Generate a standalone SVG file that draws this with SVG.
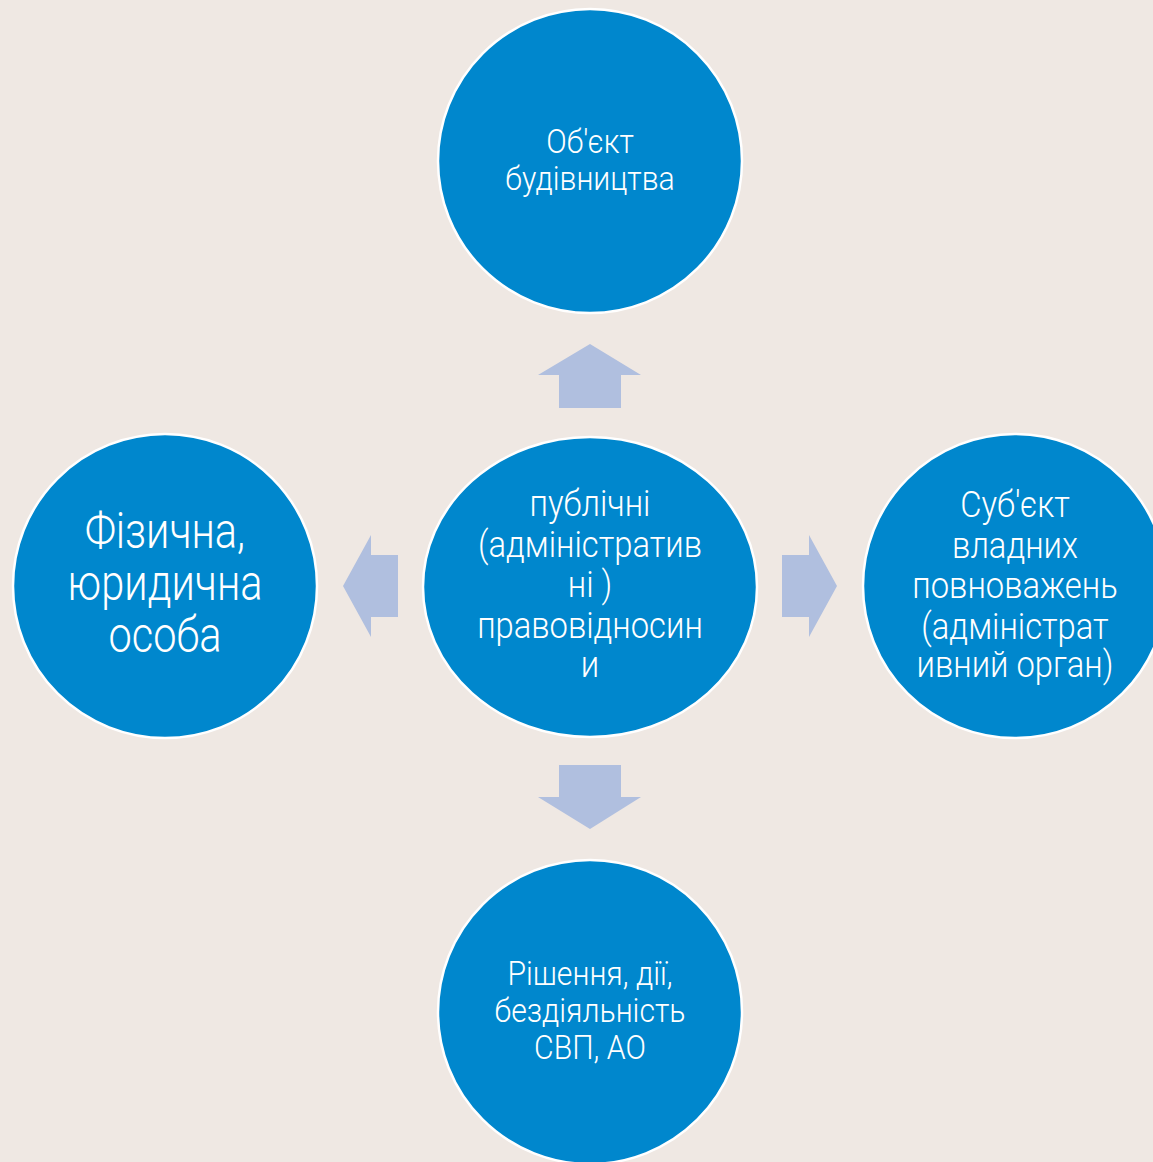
<svg xmlns="http://www.w3.org/2000/svg" width="1153" height="1162" viewBox="0 0 1153 1162">
<style>
.node{fill:#0087CD;stroke:#FFFFFF;stroke-width:2.5}
.arr{fill:#B0BFDF}
.t{fill:#FFFFFF;font-family:Roboto,"Liberation Sans",sans-serif;font-weight:300;text-anchor:middle}
.s33{font-size:33px}
.s37{font-size:37px}
.s50{font-size:50px}
</style>
<rect width="1153" height="1162" fill="#EFE8E3"/>
<g id="connectors">
<polygon class="arr" points="590,344 641,375 621,375 621,408 559,408 559,375 538,375"/>
<polygon class="arr" points="590,829 641,797 621,797 621,765 559,765 559,797 538,797"/>
<polygon class="arr" points="343,586 371,535 371,555 398,555 398,617 371,617 371,637"/>
<polygon class="arr" points="837,586 809,535 809,555 782,555 782,617 809,617 809,637"/>
</g>
<g id="node-top">
<circle class="node" cx="590" cy="161" r="152"/>
<g transform="matrix(0.915,0,0,1,50.15,0)">
<text class="t s33" x="590" y="153">Об'єкт</text>
<text class="t s33" x="590" y="190">будівництва</text>
</g>
</g>
<g id="node-center">
<ellipse class="node" cx="590" cy="587" rx="167" ry="150"/>
<g transform="matrix(0.885,0,0,1,67.85,0)">
<text class="t s37" x="590" y="516">публічні</text>
<text class="t s37" x="590" y="557">(адміністратив</text>
<text class="t s37" x="590" y="597">ні )</text>
<text class="t s37" x="590" y="638">правовідносин</text>
<text class="t s37" x="590" y="677">и</text>
</g>
</g>
<g id="node-left">
<circle class="node" cx="165" cy="586" r="152"/>
<g transform="matrix(0.83,0,0,1,28.05,0)">
<text class="t s50" x="165" y="548">Фізична,</text>
<text class="t s50" x="165" y="600">юридична</text>
<text class="t s50" x="165" y="652">особа</text>
</g>
</g>
<g id="node-right">
<circle class="node" cx="1015" cy="586" r="152"/>
<g transform="matrix(0.885,0,0,1,116.725,0)">
<text class="t s37" x="1015" y="517">Суб'єкт</text>
<text class="t s37" x="1015" y="558">владних</text>
<text class="t s37" x="1015" y="598">повноважень</text>
<text class="t s37" x="1015" y="639">(адміністрат</text>
<text class="t s37" x="1015" y="677">ивний орган)</text>
</g>
</g>
<g id="node-bottom">
<circle class="node" cx="590" cy="1012" r="152"/>
<g transform="matrix(0.915,0,0,1,50.15,0)">
<text class="t s33" x="590" y="985">Рішення, дії,</text>
<text class="t s33" x="590" y="1022">бездіяльність</text>
<text class="t s33" x="590" y="1059">СВП, АО</text>
</g>
</g>
</svg>
